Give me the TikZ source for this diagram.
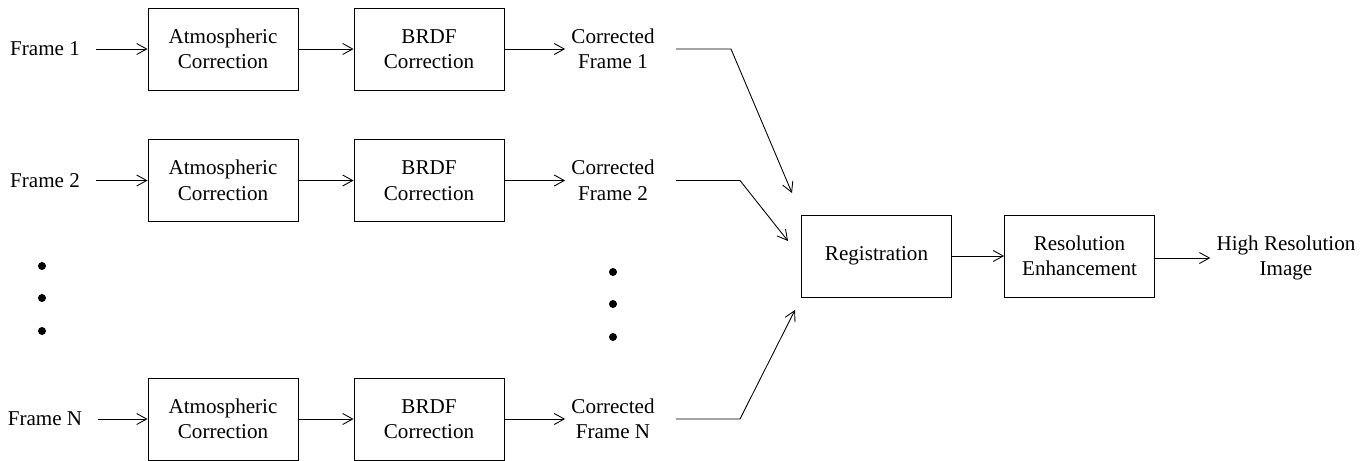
\documentclass[tikz,border=0pt]{standalone}
\usepackage{fontspec}
\setmainfont{Liberation Serif}
\usetikzlibrary{arrows.meta}

\begin{document}
\begin{tikzpicture}[>={Straight Barb[length=2mm,width=2.2mm]}, line width=0.5pt,
  every node/.style={font=\fontsize{12}{14.5}\selectfont, align=center},
  blk/.style={draw, minimum width=3cm, minimum height=1.64cm, inner sep=0pt}]
\useasboundingbox (0,0) rectangle (27.38,-9.2);
% one row per frame
\foreach \y/\k in {-0.98/1, -3.61/2, -8.38/N}{
\node (f\k) at (0.9,\y) {Frame \k};
\node[blk] (a\k) at (4.46,\y) {Atmospheric\\Correction};
\node[blk] (b\k) at (8.58,\y) {BRDF\\Correction};
\node (c\k) at (12.26,\y) {Corrected\\Frame \k};
\draw[->,shorten <=0.2cm] (f\k) -- (a\k);
\draw[->] (a\k) -- (b\k);
\draw[->] (b\k) -- (c\k);
}
% dots
\foreach \yy in {-5.32,-5.96,-6.62} \fill (0.84,\yy) circle (0.08);
\foreach \yy in {-5.44,-6.08,-6.74} \fill (12.26,\yy) circle (0.08);

\node[blk] (reg) at (17.53,-5.12) {Registration};
\node[blk] (enh) at (21.59,-5.12) {Resolution\\Enhancement};
\node (hri) at (25.72,-5.16) {High Resolution\\Image};
\draw[->] (reg) -- (enh);
\draw[->] (enh.east |- hri) -- (hri);

\coordinate (k1) at (14.62,-0.98);
\coordinate (k2) at (14.8,-3.61);
\coordinate (kN) at (14.8,-8.38);
\coordinate (e1) at (15.84,-3.86);
\coordinate (e2) at (15.76,-4.82);
\coordinate (eN) at (15.9,-6.2);
\draw[->,shorten <=0.3cm] (c1.east) -- (k1) -- (e1);
\draw[->,shorten <=0.3cm] (c2.east) -- (k2) -- (e2);
\draw[->,shorten <=0.3cm] (cN.east) -- (kN) -- (eN);
\end{tikzpicture}
\end{document}
